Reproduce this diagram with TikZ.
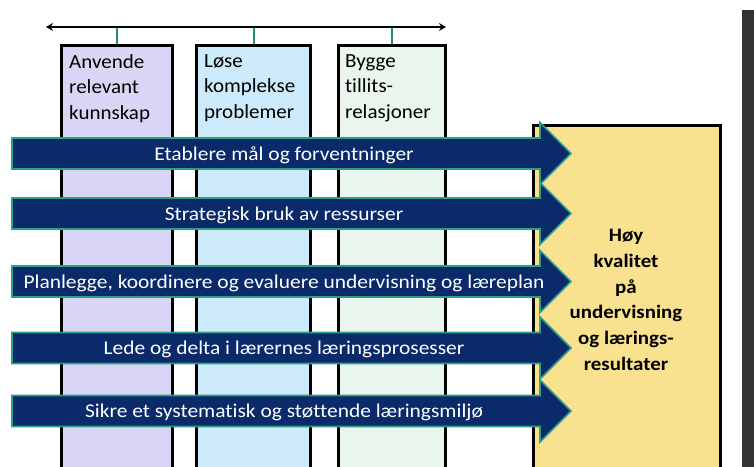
\documentclass[tikz,border=0pt]{standalone}
\usepackage{fontspec}
\setmainfont{Carlito}[Ligatures=NoCommon]
\newfontfamily\widefont{Carlito}[Ligatures=NoCommon, FakeStretch=1.1]
\newfontfamily\colfont{Carlito}[Ligatures=NoCommon, FakeStretch=1.05]
\usetikzlibrary{arrows.meta}

\definecolor{lavender}{HTML}{D8D6F4}
\definecolor{skyfill}{HTML}{CDEAFA}
\definecolor{mintfill}{HTML}{EAF5EE}
\definecolor{goldfill}{HTML}{F8E28F}
\definecolor{navy}{HTML}{0B2A6A}
\definecolor{tealline}{HTML}{2F9E88}
\definecolor{tickgreen}{HTML}{2E8B6A}
\definecolor{sidebar}{HTML}{333333}

% one horizontal block arrow with its caption, centred on height #2
\newcommand\flowarrow[3]{%
  \draw[flow] (12,#2-15.5) -- (540,#2-15.5) -- (540,#2-31) -- (571,#2)
    -- (540,#2+31) -- (540,#2+15.5) -- (12,#2+15.5) -- cycle;
  \node[flowlabel] (#1) at (284,#2+6.5) {#3};}

\begin{document}
\begin{tikzpicture}[x=1pt,y=-1pt,
  colbox/.style={draw=black, line width=3.2pt, anchor=north west,
    inner sep=0pt, minimum height=440pt},
  collabel/.style={anchor=north west, align=left, inner sep=0pt,
    font=\colfont\fontsize{20}{25.5}\selectfont},
  flow/.style={fill=navy, draw=tealline, line width=1.6pt, line join=miter},
  flowlabel/.style={text=white, anchor=base, inner sep=0pt,
    font=\widefont\fontsize{19.5}{22}\selectfont},
  tick/.style={draw=tickgreen, line width=2pt},
  span/.style={draw=black, line width=2.4pt,
    {Stealth[length=7pt,width=8pt]}-{Stealth[length=7pt,width=8pt]}},
  goalbox/.style={draw=black, line width=3pt, fill=goldfill, anchor=north west,
    inner sep=0pt, minimum width=187pt, minimum height=360pt},
  goallabel/.style={anchor=north, align=center, inner sep=0pt,
    font=\widefont\bfseries\fontsize{19}{25.8}\selectfont}]

\clip (0,0) rectangle (754,466);
\fill[white] (0,0) rectangle (754,466);

% dark strip on the right edge
\fill[sidebar] (742,10) rectangle (760,470);

% the three competence columns
\node[colbox, fill=lavender, minimum width=111pt] (c1) at (60,43.5) {};
\node[colbox, fill=skyfill,  minimum width=114pt] (c2) at (195,43.5) {};
\node[colbox, fill=mintfill, minimum width=107pt] (c3) at (337,43.5) {};

\node[collabel] (t1) at (69,54) {Anvende\\relevant\\kunnskap};
\node[collabel] (t2) at (204,54) {Løse\\komplekse\\problemer};
\node[collabel] (t3) at (345,54) {Bygge\\tillits-\\relasjoner};

% double-headed line tying the columns together
\coordinate (tl) at (46,27);
\coordinate (tr) at (446,27);
\draw[tick] (c1.north) -- (c1.north |- tl);
\draw[tick] (c2.north) -- (c2.north |- tl);
\draw[tick] (c3.north) -- (c3.north |- tl);
\draw[span] (tl) -- (tr);

% outcome box
\node[goalbox] (goal) at (532,124) {};
\node[goallabel] (goaltext) at (626,229)
  {Høy\\kvalitet\\på\\undervisning\\og lærings-\\resultater};

% leadership practices
\flowarrow{a1}{153.5}{Etablere mål og forventninger}
\flowarrow{a2}{213.5}{Strategisk bruk av ressurser}
\flowarrow{a3}{281.5}{Planlegge, koordinere og evaluere undervisning og læreplan}
\flowarrow{a4}{348}{Lede og delta i lærernes læringsprosesser}
\flowarrow{a5}{411}{Sikre et systematisk og støttende læringsmiljø}

\end{tikzpicture}
\end{document}
